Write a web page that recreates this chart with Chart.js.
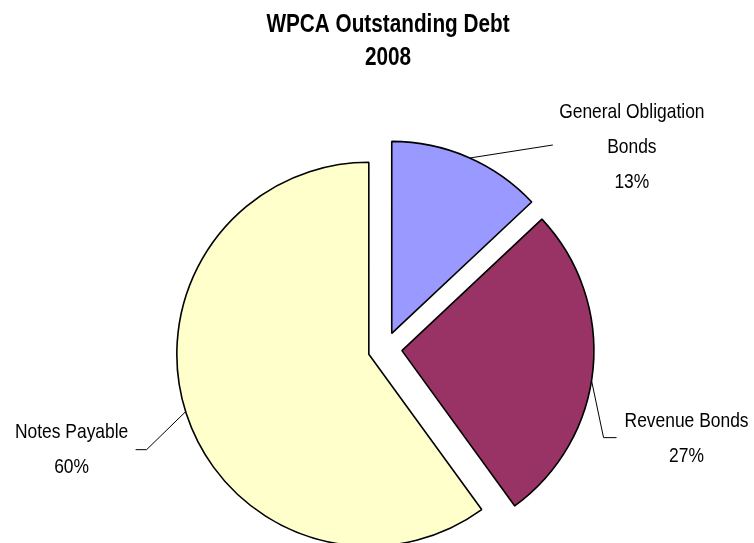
<!DOCTYPE html>
<html>
<head>
<meta charset="utf-8">
<title>WPCA Outstanding Debt 2008</title>
<script src="https://cdn.jsdelivr.net/npm/chart.js@4.4.1/dist/chart.umd.min.js"></script>
<style>
  html, body { margin: 0; padding: 0; background: #fff; }
  #wrap { width: 754px; height: 543px; }
</style>
</head>
<body>
<div id="wrap"><canvas id="debt-pie"></canvas></div>
<script>
// WPCA outstanding debt, 2008 (share of total, %)
const categories = ['General Obligation Bonds', 'Revenue Bonds', 'Notes Payable'];
const debtShare = [13, 27, 60];
const sliceColors = ['#9999FF', '#993366', '#FFFFCC'];
const titleLines = ['WPCA Outstanding Debt', '2008'];

const FONT = "'Liberation Sans', Arial, sans-serif";
const SQUEEZE = 0.83;   // the original text is a condensed arial
const PIE_RADIUS = 192;
const EXPLODE = 17;     // every slice pulled out this many px

// leader line: leaves the rim at `angle` (deg clockwise from 12 o'clock), then bends; text is placed off the last bend
const labelLayout = [
    { angle: 24, bends: [[83, -13]], text: [79, -33] },
    { angle: 99, bends: [[12, 57], [25, 57]], text: [70, -16] },
    { angle: 252.6, bends: [[-39, 38], [-50, 38]], text: [-64, -17] }
];

function wrap(ctx, str, maxWidth) {
    const out = [];
    let line = '';
    str.split(' ').forEach(w => {
        const test = line ? line + ' ' + w : w;
        if (line && ctx.measureText(test).width * SQUEEZE > maxWidth) {
            out.push(line);
            line = w;
        } else {
            line = test;
        }
    });
    out.push(line);
    return out;
}

function squeezedText(ctx, t, x, y) {
    ctx.save();
    ctx.translate(x, y);
    ctx.scale(SQUEEZE, 1);
    ctx.fillText(t, 0, 0);
    ctx.restore();
}

// pull each slice out along its middle angle
const explode = {
    id: 'explode',
    beforeDatasetsDraw(chart) {
        const area = chart.chartArea;
        const x = (area.left + area.right) / 2;
        const y = (area.top + area.bottom) / 2;
        chart.getDatasetMeta(0).data.forEach(arc => {
            const mid = (arc.startAngle + arc.endAngle) / 2;
            arc.x = x + Math.cos(mid) * EXPLODE;
            arc.y = y + Math.sin(mid) * EXPLODE;
        });
    }
};

// excel style labels with leader lines, plus the title
const sliceLabels = {
    id: 'sliceLabels',
    afterDatasetsDraw(chart) {
        const ctx = chart.ctx;
        const meta = chart.getDatasetMeta(0);
        const R = meta.controller.outerRadius;
        const total = debtShare.reduce((a, b) => a + b, 0);
        ctx.save();
        ctx.fillStyle = '#000';
        ctx.strokeStyle = '#000';
        ctx.lineWidth = 1;
        ctx.textAlign = 'center';
        ctx.textBaseline = 'middle';

        ctx.font = `bold 25px ${FONT}`;
        const tx = (chart.chartArea.left + chart.chartArea.right) / 2 + 3;
        titleLines.forEach((t, k) => squeezedText(ctx, t, tx, 25 + k * 33));

        ctx.font = `21px ${FONT}`;
        meta.data.forEach((arc, i) => {
            const lay = labelLayout[i];
            const a = (lay.angle - 90) * Math.PI / 180;
            const x0 = arc.x + Math.cos(a) * R;
            const y0 = arc.y + Math.sin(a) * R;
            ctx.beginPath();
            ctx.moveTo(x0, y0);
            lay.bends.forEach(([dx, dy]) => ctx.lineTo(x0 + dx, y0 + dy));
            ctx.stroke();
            const [ex, ey] = lay.bends[lay.bends.length - 1];
            const lines = wrap(ctx, categories[i], 165).concat(Math.round(debtShare[i] / total * 100) + '%');
            lines.forEach((t, k) => squeezedText(ctx, t, x0 + ex + lay.text[0], y0 + ey + lay.text[1] + k * 35));
        });
        ctx.restore();
    }
};

new Chart(document.getElementById('debt-pie'), {
    type: 'pie',
    data: {
        labels: categories,
        datasets: [{
            data: debtShare,
            backgroundColor: sliceColors,
            borderColor: '#000',
            borderWidth: 1.6,
            radius: PIE_RADIUS
        }]
    },
    options: {
        responsive: true,
        maintainAspectRatio: false,
        animation: false,
        layout: { padding: { left: 16, top: 155 } },
        plugins: {
            legend: { display: false },
            tooltip: { enabled: false },
            title: { display: false }
        }
    },
    plugins: [explode, sliceLabels]
});
</script>
</body>
</html>
